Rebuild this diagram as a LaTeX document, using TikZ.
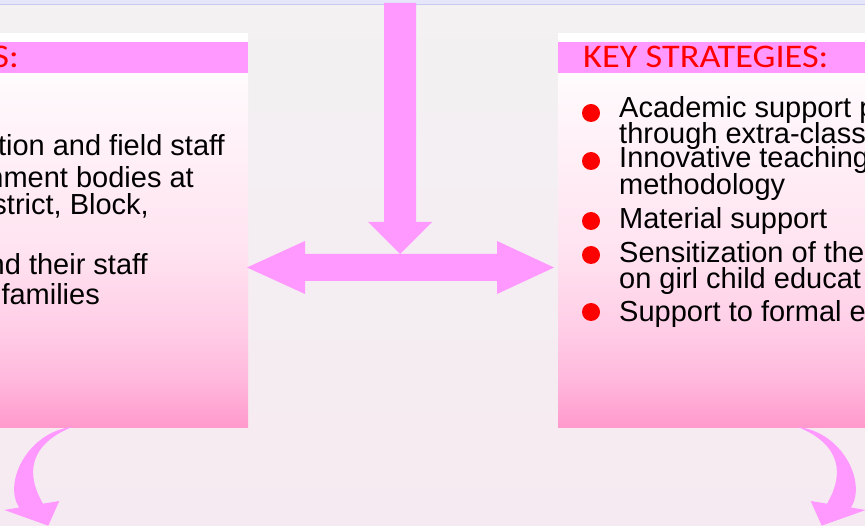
\documentclass[tikz,border=0pt]{standalone}
\usepackage{fontspec}
\setmainfont{Liberation Sans}
\newfontfamily\headfont{Carlito}
\usetikzlibrary{calc}
\definecolor{bgtop}{HTML}{F3F1F2}
\definecolor{bgbot}{HTML}{F5EAF1}
\definecolor{bandc}{HTML}{E6E6FB}
\definecolor{bandline}{HTML}{C9C9F2}
\definecolor{headpink}{HTML}{FF99FF}
\definecolor{arrowpink}{HTML}{FF99FF}
\definecolor{gA}{HTML}{FFFBFD}
\definecolor{gB}{HTML}{FFF0F7}
\definecolor{gC}{HTML}{FFE3F0}
\definecolor{gD}{HTML}{FFCDE6}
\definecolor{gE}{HTML}{FFB8DC}
\definecolor{gF}{HTML}{FF99CC}
\pgfdeclareverticalshading{boxshade}{100bp}{color(0bp)=(gF); color(25bp)=(gF); color(31.8bp)=(gE); color(38.8bp)=(gD); color(50.1bp)=(gC); color(64.3bp)=(gB); color(75bp)=(gA); color(100bp)=(gA)}
\tikzset{
  bodytext/.style={font=\fontsize{29}{29}\selectfont, inner sep=0pt, text=black},
  headtext/.style={font=\headfont\fontsize{33}{33}\selectfont, inner sep=0pt, text=red},
  bulletdot/.style={circle, fill=red, minimum size=18pt, inner sep=0pt},
  blockarrow/.style={fill=arrowpink, draw=none},
}
\begin{document}
\begin{tikzpicture}[x=1pt,y=-1pt]
\useasboundingbox (0,0) rectangle (865,526);
\clip (0,0) rectangle (865,526);
% background
\shade[top color=bgtop, bottom color=bgbot] (0,0) rectangle (865,526);
\fill[bandc] (0,0) rectangle (865,4);
\fill[bandline] (0,4) rectangle (865,5.5);
% left box
\fill[white] (-10,33) rectangle (248,74);
\fill[headpink] (-10,42) rectangle (248,74);
\shade[shading=boxshade] (-10,74) rectangle (248,428);
\coordinate (leftbox) at (248,250);
% right box
\fill[white] (558,33) rectangle (875,74);
\fill[headpink] (558,42) rectangle (875,74);
\shade[shading=boxshade] (558,74) rectangle (875,428);
\coordinate (rightbox) at (558,250);
% headers
\node[headtext, anchor=base east] (lhead) at (19,68) {\scalebox{1.1}[1]{S:}};
\node[headtext, anchor=base west] (rhead) at (583,68) {\scalebox{1.1}[1]{KEY STRATEGIES:}};
% left box text
\node[bodytext, anchor=base east] (l1) at (225,156) {tion and field staff};
\node[bodytext, anchor=base east] (l2) at (194,188) {nment bodies at};
\node[bodytext, anchor=base east] (l3) at (149,215) {strict, Block,};
\node[bodytext, anchor=base east] (l4) at (148,275) {nd their staff};
\node[bodytext, anchor=base east] (l5) at (100,305) {families};
% right box bullets and text
\node[bulletdot] (b1) at (591,113) {};
\node[bulletdot] (b2) at (591,161) {};
\node[bulletdot] (b3) at (591,221) {};
\node[bulletdot] (b4) at (591,255) {};
\node[bulletdot] (b5) at (591,312) {};
\node[bodytext, anchor=base west] (r1) at (619,118) {Academic support p};
\node[bodytext, anchor=base west] (r1b) at (619,144) {through extra-class};
\node[bodytext, anchor=base west] (r2) at (619,168) {Innovative teaching};
\node[bodytext, anchor=base west] (r2b) at (619,194.5) {methodology};
\node[bodytext, anchor=base west] (r3) at (619,229) {Material support};
\node[bodytext, anchor=base west] (r4) at (619,263) {Sensitization of the};
\node[bodytext, anchor=base west] (r4b) at (619,288.5) {on girl child educat};
\node[bodytext, anchor=base west] (r5) at (619,322) {Support to formal e};
% vertical arrow
\coordinate (vtop) at (400,3);
\coordinate (vtip) at (400,254);
\fill[blockarrow] ($(vtop)+(-16,0)$) -- ($(vtop)+(16,0)$) -- (416,222) -- (432,222) -- (vtip) -- (368,222) -- (384,222) -- cycle;
% horizontal double arrow
\coordinate (ltip) at (247,267.5);
\coordinate (rtip) at (554,267.5);
\fill[blockarrow] (ltip) -- (305,241) -- (305,254) -- (497,254) -- (497,241) -- (rtip) -- (497,294) -- (497,281) -- (305,281) -- (305,294) -- cycle;
% curved arrows
\coordinate (ctop) at (72,427);
\coordinate (ctip) at (48.3,525.7);
\fill[blockarrow] (ctop) .. controls (28,432) and (3,482) .. (19,507.5) -- (4.3,510) -- (ctip) -- (59.3,501) -- (43,503.7) .. controls (26,475) and (28,445) .. (ctop) -- cycle;
\begin{scope}[shift={(870,0)}, xscale=-1]
\coordinate (ctopR) at (72,427);
\coordinate (ctipR) at (48.3,525.7);
\fill[blockarrow] (ctopR) .. controls (28,432) and (3,482) .. (19,507.5) -- (4.3,510) -- (ctipR) -- (59.3,501) -- (43,503.7) .. controls (26,475) and (28,445) .. (ctopR) -- cycle;
\end{scope}
\end{tikzpicture}
\end{document}
